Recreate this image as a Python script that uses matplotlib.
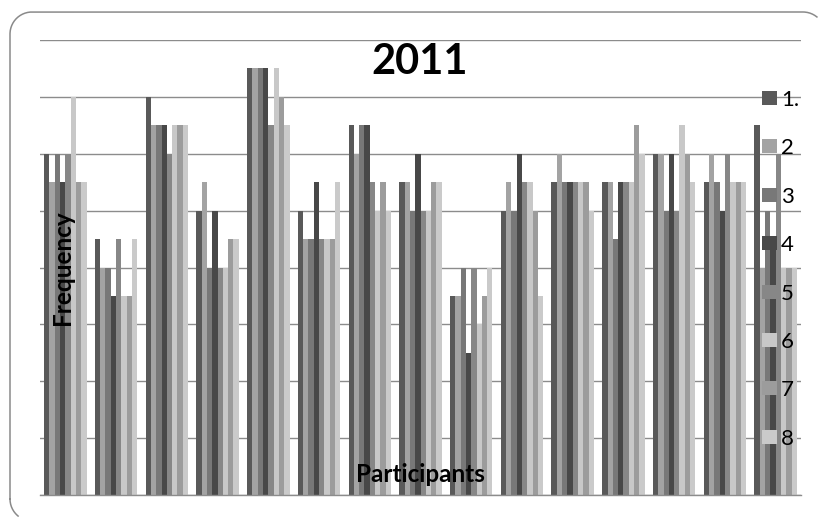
import numpy as np
import matplotlib.pyplot as plt
from matplotlib.patches import Rectangle
from matplotlib.lines import Line2D
from matplotlib.transforms import Affine2D

plt.rcParams["savefig.bbox"] = "standard"

# Scores per participant, one list per series
participants = list(range(1, 16))
series_labels = ["1.", "2", "3", "4", "5", "6", "7", "8"]

s1 = [6, 4.5, 7, 5, 7.5, 5, 6.5, 5.5, 3.5, 5, 5.5, 5.5, 6, 5.5, 6.5]
s2 = [5.5, 4, 6.5, 5.5, 7.5, 4.5, 6, 5.5, 3.5, 5.5, 6, 5.5, 6, 6, 4]
s3 = [6, 4, 6.5, 4, 7.5, 4.5, 6.5, 5, 4, 5, 5.5, 4.5, 5, 5.5, 5]
s4 = [5.5, 3.5, 6.5, 5, 7.5, 5.5, 6.5, 6, 2.5, 6, 5.5, 5.5, 6, 5, 4.5]
s5 = [6, 4.5, 6, 4, 6.5, 4.5, 5.5, 5, 4, 5.5, 5.5, 5.5, 5, 6, 6]
s6 = [7, 3.5, 6.5, 4, 7.5, 4.5, 5, 5, 3, 5.5, 5.5, 5.5, 6.5, 5.5, 4]
s7 = [5.5, 3.5, 6.5, 4.5, 7, 4.5, 5.5, 5.5, 3.5, 5, 5.5, 6.5, 6, 5.5, 4]
s8 = [5.5, 4.5, 6.5, 4.5, 6.5, 5.5, 5, 5.5, 4, 3.5, 5, 6, 5.5, 5.5, 4]

series = [s1, s2, s3, s4, s5, s6, s7, s8]
colors = ["#595959", "#a3a3a3", "#787878", "#484848",
          "#878787", "#c8c8c8", "#9c9c9c", "#cacaca"]

W, H = 818, 517
fig = plt.figure(figsize=(W / 100, H / 100), dpi=100)
ax = fig.add_axes([40 / W, 1 - 495 / H, 761 / W, 455 / H])

# pixel coordinates (origin bottom-left) mapped onto the figure
px = Affine2D().scale(1 / W, 1 / H) + fig.transFigure

x = np.arange(len(participants))
bw = 0.837 / len(series)
for i, (vals, c) in enumerate(zip(series, colors)):
    ax.bar(x + (i - 3.5) * bw, vals, width=bw, color=c, zorder=2)

ax.set_xlim(-0.5, len(participants) - 0.5)
ax.set_ylim(0, 8)
ax.set_yticks(np.arange(0, 9, 1))
ax.set_xticks([])
ax.tick_params(left=False, labelleft=False)
ax.grid(axis="y", color="#8c8c8c", linewidth=1.0, zorder=0)
ax.set_axisbelow(True)
for side in ["left", "right", "top"]:
    ax.spines[side].set_visible(False)
ax.spines["bottom"].set_color("#8c8c8c")
ax.spines["bottom"].set_linewidth(1.0)


# chart frame with rounded corners, cut where it leaves the canvas
def rounded_outline(x0, y0, x1, y1, r, n=40):
    corners = [(x0 + r, y0 + r, np.pi, 1.5 * np.pi),
               (x1 - r, y0 + r, 1.5 * np.pi, 2 * np.pi),
               (x1 - r, y1 - r, 0, 0.5 * np.pi),
               (x0 + r, y1 - r, 0.5 * np.pi, np.pi)]
    xs, ys = [], []
    for cx, cy, a0, a1 in corners:
        t = np.linspace(a0, a1, n)
        xs.extend(cx + r * np.cos(t))
        ys.extend(cy + r * np.sin(t))
    xs.append(xs[0])
    ys.append(ys[0])
    xs, ys = np.array(xs), np.array(ys)
    off = (xs > W - 0.5) | (ys < 0.5)
    xs[off] = np.nan
    ys[off] = np.nan
    return xs, ys


fx, fy = rounded_outline(10, -4, 825, 505, 22)
frame = Line2D(fx, fy, transform=px, color="#8a8a8a", lw=1.1)
frame.set_in_layout(False)
fig.add_artist(frame)

# titles
fig.text(420 / W, 1 - 62 / H, "2011", fontsize=30, fontweight="bold",
         family="Lato", ha="center", va="center")
fig.text(63 / W, 1 - 268 / H, "Frequency", fontsize=17.5, fontweight="bold",
         family="Lato", rotation=90, ha="center", va="center", zorder=5)
fig.text(420 / W, 1 - 475 / H, "Participants", fontsize=17.5, fontweight="bold",
         family="Lato", ha="center", va="center", zorder=5)

# legend drawn over the right edge of the plot
for i, (lab, c) in enumerate(zip(series_labels, colors)):
    yc = H - (98 + i * 48.4)
    fig.patches.append(Rectangle((762, yc - 7), 15, 14, transform=px,
                                 facecolor=c, edgecolor="none", zorder=4))
    fig.text(781 / W, yc / H, lab, fontsize=16, family="Lato",
             ha="left", va="center_baseline", zorder=5)

fig.savefig("out.png", dpi=100)
